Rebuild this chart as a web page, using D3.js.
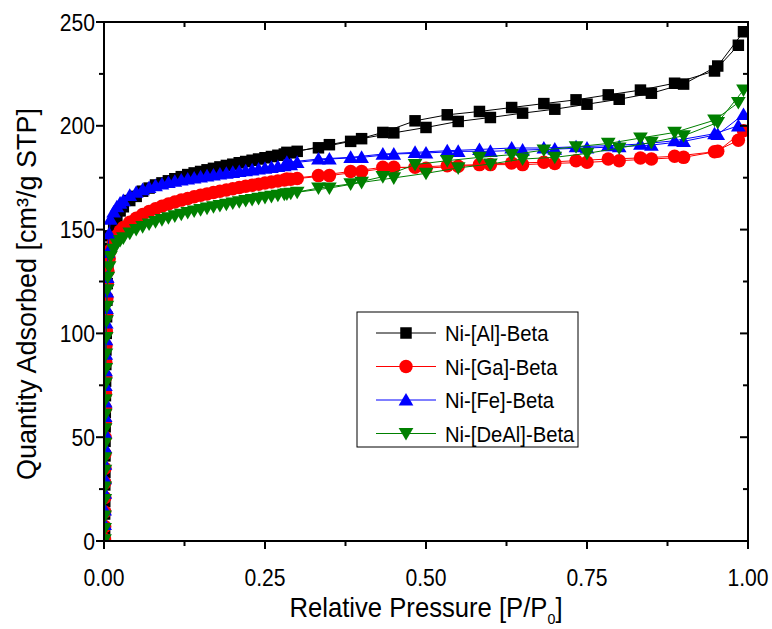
<!DOCTYPE html>
<html>
<head>
<meta charset="utf-8">
<script src="https://cdn.jsdelivr.net/npm/d3@7"></script>
<style>
  body { margin: 0; background: #fff; }
  svg text { font-family: "Liberation Sans", Arial, sans-serif; fill: #000; }
</style>
</head>
<body>
<div class="chart"></div>
<script>
// series names, colours and marker shapes
var seriesNames = ["Ni-[Al]-Beta", "Ni-[Ga]-Beta", "Ni-[Fe]-Beta", "Ni-[DeAl]-Beta"];
var seriesColors = ["#000000", "#ff0000", "#0000ff", "#008000"];
var seriesShapes = ["square", "circle", "triangleUp", "triangleDown"];

// relative pressure, adsorption branch (shared by all samples)
var adsP = [0.0008, 0.001, 0.001, 0.0012, 0.0012, 0.0014, 0.0015, 0.0016, 0.0018, 0.002,
    0.0022, 0.0025, 0.0028, 0.003, 0.0035, 0.004, 0.0045, 0.005, 0.006, 0.008,
    0.01, 0.015, 0.02, 0.025, 0.03, 0.04, 0.05, 0.06, 0.07, 0.08, 0.09, 0.10,
    0.11, 0.12, 0.13, 0.14, 0.15, 0.16, 0.17, 0.18, 0.19, 0.20,
    0.21, 0.22, 0.23, 0.24, 0.25, 0.26, 0.27, 0.28, 0.29, 0.30,
    0.35, 0.40, 0.45, 0.50, 0.55, 0.60, 0.65, 0.70, 0.75, 0.80, 0.85, 0.90, 0.953, 0.993];

// relative pressure, desorption branch
var desP = [0.985, 0.948, 0.886, 0.833, 0.783, 0.733, 0.683, 0.633, 0.583, 0.533, 0.483, 0.433, 0.383, 0.333, 0.284];

// quantity adsorbed [cm3/g STP], adsorption
var alAds = [0.5, 6, 13, 19, 27, 33, 41, 48, 55, 62, 70, 77, 85, 92, 100, 108, 116, 124, 133, 141,
    147, 152, 156, 159, 161, 164, 166, 168.5, 170, 171.5, 172.5, 173.5,
    174.5, 175.5, 176.5, 177.3, 178, 178.8, 179.5, 180.2, 180.9, 181.5,
    182.2, 182.8, 183.4, 184, 184.6, 185.2, 185.8, 186.4, 187, 187.7,
    190.9, 193.8, 196.6, 199.2, 202.1, 204.0, 206.1, 208.0, 210.4, 212.8, 215.7, 220.1, 228.8, 245.3];
var gaAds = [0.8, 7, 14, 21, 28, 35, 42, 50, 57, 64, 71, 79, 86, 94, 101, 109, 117, 124, 130, 136,
    140, 144, 147, 149.3, 151, 153.5, 155.5, 157.3, 158.7, 160, 161.2, 162.3,
    163.3, 164.2, 165, 165.8, 166.5, 167.2, 167.9, 168.5, 169.1, 169.7,
    170.3, 170.9, 171.4, 171.9, 172.4, 172.9, 173.4, 173.9, 174.3, 174.6,
    176, 178, 180, 179.6, 180.5, 181.3, 181.3, 181.9, 182.4, 183.2, 184, 184.8, 187.7, 197.6];
var feAds = [1, 8, 15, 23, 30, 37, 45, 52, 60, 67, 75, 82, 90, 97, 105, 112, 120, 127, 139, 148,
    155, 158.5, 161, 162.8, 164, 166.5, 168, 169.3, 170.3, 171.2, 172, 172.7,
    173.3, 173.9, 174.4, 174.9, 175.4, 175.9, 176.3, 176.8, 177.2, 177.6,
    178, 178.4, 178.8, 179.2, 179.6, 180, 180.4, 180.8, 181.3, 182.4,
    184, 184.8, 186.4, 186.9, 187.7, 187.7, 188.3, 188.8, 189.3, 189.9, 190.7, 192.5, 195.8, 205.5];
var dealAds = [0.6, 6, 12, 20, 26, 34, 40, 47, 54, 61, 68, 76, 83, 90, 98, 106, 113, 121, 127, 132,
    137, 140.5, 143, 144.7, 146, 148.3, 150, 151.4, 152.7, 153.8, 154.8, 155.7,
    156.6, 157.4, 158.2, 158.9, 159.6, 160.3, 161, 161.6, 162.2, 162.8,
    163.4, 164, 164.5, 165, 165.5, 166, 166.5, 167, 167.5, 168,
    170, 172.7, 174.9, 177.1, 179.7, 181.6, 184, 184.8, 186.7, 189.3, 192, 195.2, 201.6, 217.2];

// quantity adsorbed, desorption
var alDes = [238.8, 226.4, 220.5, 217.2, 214.9, 212.5, 210.7, 208.8, 206.9, 205.3, 202.4, 196.8, 192.5, 189.4, 187.2];
var gaDes = [193, 187.5, 185.3, 184.5, 184, 183.2, 182.4, 182.1, 181.3, 180.8, 180, 180, 178, 176, 174.4];
var feDes = [200, 196.2, 192.8, 191.2, 190.4, 189.9, 189.3, 189.3, 188.6, 188, 187.2, 186.4, 184.8, 184, 182.4];
var dealDes = [211.2, 202.7, 196.8, 194.1, 191.5, 189.9, 188.3, 186.1, 184.8, 183.2, 181.3, 175.5, 172, 170, 167.2];

var xTicks = [0, 0.25, 0.5, 0.75, 1.0];
var yTicks = [0, 50, 100, 150, 200, 250];
var xMinor = [0.125, 0.375, 0.625, 0.875];
var yMinor = [25, 75, 125, 175, 225];

var adsValues = [alAds, gaAds, feAds, dealAds];
var desValues = [alDes, gaDes, feDes, dealDes];

var w = 772;
var h = 629;
var pL = 104, pR = 748, pT = 22, pB = 541;
var narrow = 0.88;  // text in the original is a bit condensed

var svg = d3.select(".chart").append("svg")
    .attr("width", w)
    .attr("height", h);

var x = d3.scaleLinear().domain([0, 1]).range([pL, pR]);
var y = d3.scaleLinear().domain([0, 250]).range([pB, pT]);

svg.append("clipPath").attr("id", "plotclip")
    .append("rect")
    .attr("x", pL).attr("y", pT)
    .attr("width", pR - pL).attr("height", pB - pT);

// marker path for a given shape
function markerPath(shape, s) {
    if (shape == "square") return d3.symbol().type(d3.symbolSquare).size(s * s)();
    if (shape == "circle") return d3.symbol().type(d3.symbolCircle).size(Math.PI * s * s / 4)();
    var hh = s * 0.5;
    if (shape == "triangleUp") return "M0," + (-hh * 1.0) + "L" + (hh * 1.05) + "," + (hh * 0.8) + "L" + (-hh * 1.05) + "," + (hh * 0.8) + "Z";
    return "M0," + (hh * 1.0) + "L" + (hh * 1.05) + "," + (-hh * 0.8) + "L" + (-hh * 1.05) + "," + (-hh * 0.8) + "Z";
}
var markerSize = [11.5, 13.5, 14, 14];

var line = d3.line()
    .x(function (d) { return x(d[0]); })
    .y(function (d) { return y(d[1]); });

var plot = svg.append("g").attr("clip-path", "url(#plotclip)");

seriesNames.forEach(function (name, i) {
    var ads = adsP.map(function (p, j) { return [p, adsValues[i][j]]; });
    var des = desP.map(function (p, j) { return [p, desValues[i][j]]; });
    var g = plot.append("g");

    [ads, des].forEach(function (pts) {
        g.append("path")
            .attr("d", line(pts))
            .attr("fill", "none")
            .attr("stroke", seriesColors[i])
            .attr("stroke-width", 1);
    });

    g.selectAll("path.mk")
        .data(ads.concat(des))
        .enter()
        .append("path")
        .attr("class", "mk")
        .attr("d", markerPath(seriesShapes[i], markerSize[i]))
        .attr("transform", function (d) {
            return "translate(" + x(d[0]) + "," + y(d[1]) + ")";
        })
        .attr("fill", seriesColors[i]);
});

// axes: outward ticks bottom/left, inward ticks top/right
var axes = svg.append("g").attr("stroke", "#000").attr("stroke-width", 2);

axes.append("rect")
    .attr("x", pL).attr("y", pT)
    .attr("width", pR - pL).attr("height", pB - pT)
    .attr("fill", "none");

xTicks.forEach(function (t) {
    axes.append("line").attr("x1", x(t)).attr("x2", x(t)).attr("y1", pB).attr("y2", pB + 8);
    axes.append("line").attr("x1", x(t)).attr("x2", x(t)).attr("y1", pT).attr("y2", pT + 8);
});
xMinor.forEach(function (t) {
    axes.append("line").attr("x1", x(t)).attr("x2", x(t)).attr("y1", pB).attr("y2", pB + 5);
    axes.append("line").attr("x1", x(t)).attr("x2", x(t)).attr("y1", pT).attr("y2", pT + 5);
});
yTicks.forEach(function (t) {
    axes.append("line").attr("x1", pL - 8).attr("x2", pL).attr("y1", y(t)).attr("y2", y(t));
    axes.append("line").attr("x1", pR - 8).attr("x2", pR).attr("y1", y(t)).attr("y2", y(t));
});
yMinor.forEach(function (t) {
    axes.append("line").attr("x1", pL - 5).attr("x2", pL).attr("y1", y(t)).attr("y2", y(t));
    axes.append("line").attr("x1", pR - 5).attr("x2", pR).attr("y1", y(t)).attr("y2", y(t));
});

svg.selectAll("text.xt")
    .data(xTicks)
    .enter()
    .append("text")
    .attr("class", "xt")
    .attr("transform", function (d) { return "translate(" + x(d) + "," + (pB + 45) + ") scale(" + narrow + ",1)"; })
    .attr("text-anchor", "middle")
    .attr("font-size", "24px")
    .text(function (d) { return d3.format(".2f")(d); });

svg.selectAll("text.yt")
    .data(yTicks)
    .enter()
    .append("text")
    .attr("class", "yt")
    .attr("transform", function (d) { return "translate(" + (pL - 9) + "," + (y(d) + 8.5) + ") scale(" + narrow + ",1)"; })
    .attr("text-anchor", "end")
    .attr("font-size", "24px")
    .text(function (d) { return d; });

// axis titles
var xt = svg.append("text")
    .attr("transform", "translate(426,617) scale(0.95,1)")
    .attr("text-anchor", "middle")
    .attr("font-size", "27px");
xt.append("tspan").text("Relative Pressure [P/P");
xt.append("tspan").attr("font-size", "15px").attr("dy", 7).text("0");
xt.append("tspan").attr("dy", -7).text("]");

svg.append("text")
    .attr("transform", "translate(36,294) rotate(-90)")
    .attr("text-anchor", "middle")
    .attr("font-size", "27px")
    .text("Quantity Adsorbed [cm³/g STP]");

// legend
var lg = svg.append("g");
lg.append("rect")
    .attr("x", 357).attr("y", 312)
    .attr("width", 221).attr("height", 135)
    .attr("fill", "#fff")
    .attr("stroke", "#000")
    .attr("stroke-width", 1);

seriesNames.forEach(function (name, i) {
    var ly = 333 + i * 33.5;
    lg.append("line")
        .attr("x1", 376).attr("x2", 436)
        .attr("y1", ly).attr("y2", ly)
        .attr("stroke", seriesColors[i]).attr("stroke-width", 1);
    lg.append("path")
        .attr("d", markerPath(seriesShapes[i], markerSize[i]))
        .attr("transform", "translate(406," + ly + ")")
        .attr("fill", seriesColors[i]);
    lg.append("text")
        .attr("transform", "translate(445," + (ly + 8) + ") scale(0.9,1)")
        .attr("font-size", "22.5px")
        .text(name);
});
</script>
</body>
</html>
